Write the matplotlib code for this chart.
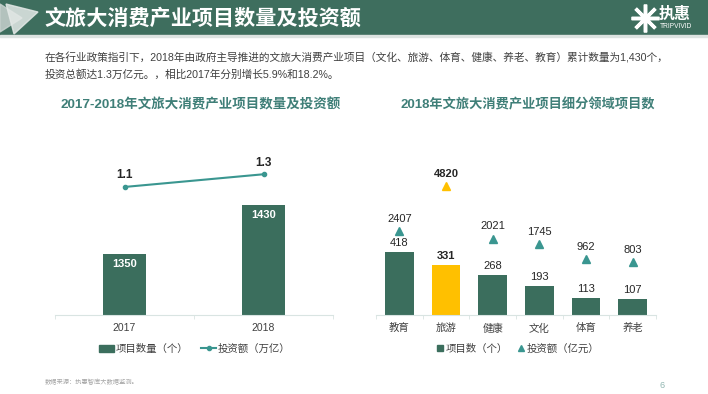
import matplotlib
matplotlib.use('Agg')
import matplotlib.pyplot as plt
from matplotlib.patches import Rectangle, Polygon
from matplotlib.lines import Line2D

plt.rcParams['font.family'] = ['Liberation Sans', 'Noto Sans CJK SC', 'DejaVu Sans']

years = ['2017', '2018']
project_counts = [1350, 1430]
investment_wanyi = [1.1, 1.3]

sectors = ['教育', '旅游', '健康', '文化', '体育', '养老']
sector_counts = [418, 331, 268, 193, 113, 107]
sector_invest_yiyuan = [2407, 4820, 2021, 1745, 962, 803]

GREEN = '#3b6e5d'
TEAL = '#3a9690'
YELLOW = '#ffc000'
TITLE_TEAL = '#3f7f78'
W, H = 708, 394


def fx(px):
    return px / W


def fy(py):
    return 1 - py / H


fig = plt.figure(figsize=(7.08, 3.94), dpi=100)

# header band
fig.patches.append(Rectangle((0, fy(35)), 1, 35 / H, transform=fig.transFigure,
                             color='#3e6e5e', zorder=0))
fig.patches.append(Rectangle((0, fy(37)), 1, 2 / H, transform=fig.transFigure,
                             color='#dde3e1', zorder=0))
for pts, c in [([(0, 4), (22, 18), (0, 32)], '#c9d2cf'),
               ([(6, 4), (38, 12), (14, 34)], '#e4e9e7')]:
    fig.patches.append(Polygon([(fx(a), fy(b)) for a, b in pts], closed=True,
                               transform=fig.transFigure, color=c, alpha=0.85, zorder=1))
fig.text(fx(44), fy(18), '文旅大消费产业项目数量及投资额', color='white', fontsize=15.2,
         fontweight='bold', va='center', ha='left')
fig.text(fx(659), fy(14), '执惠', color='white', fontsize=11.5, fontweight='bold',
         va='center', ha='left')
fig.text(fx(660), fy(27), 'TRIPVIVID', color='white', fontsize=4.8, va='center', ha='left')
fig.lines.append(Line2D([fx(645)], [fy(18)], marker=(8, 2, 0), markersize=20, color='white',
                        markeredgewidth=2.5, transform=fig.transFigure))

sub = ('在各行业政策指引下，2018年由政府主导推进的文旅大消费产业项目（文化、旅游、体育、健康、养老、教育）累计数量为1,430个，\n'
       '投资总额达1.3万亿元。，相比2017年分别增长5.9%和18.2%。')
fig.text(fx(45), fy(66), sub, fontsize=7.7, color='#404040', va='center', ha='left',
         linespacing=1.55)

fig.text(fx(201), fy(105), '2017-2018年文旅大消费产业项目数量及投资额', fontsize=9.7,
         fontweight='bold', color=TITLE_TEAL, ha='center', va='center')
fig.text(fx(528), fy(105), '2018年文旅大消费产业项目细分领域项目数', fontsize=9.5,
         fontweight='bold', color=TITLE_TEAL, ha='center', va='center')

# left chart
top = 150
ax1 = fig.add_axes([fx(55), fy(315), fx(333 - 55), (315 - top) / H])
x1 = range(len(years))
ax1.bar(x1, project_counts, width=0.316, color=GREEN, label='项目数量（个）')
for i, v in enumerate(project_counts):
    ax1.text(i, v - 9, str(v), color='white', fontsize=8, fontweight='bold',
             ha='center', va='top')
ax1.set_ylim(1250, 1519)
ax1.set_xlim(-0.5, 1.5)
ax1b = ax1.twinx()
ax1b.plot(x1, investment_wanyi, color=TEAL, lw=1.5, marker='o', markersize=3,
          label='投资额（万亿）')
for i, v in enumerate(investment_wanyi):
    ax1b.text(i, v + 0.09, f'{v:.1f}', color='#262626', fontsize=8.5, fontweight='bold',
              ha='center', va='bottom')
ax1b.set_ylim(-0.916, 1.682)

# right chart
ax2 = fig.add_axes([fx(376), fy(315), fx(656 - 376), (315 - top) / H])
x2 = range(len(sectors))
colors = [YELLOW if s == '旅游' else GREEN for s in sectors]
ax2.bar(x2, sector_counts, width=0.62, color=colors, label='项目数（个）')
for i, v in enumerate(sector_counts):
    ax2.text(i, v + 25, str(v), color='#262626', fontsize=8,
             fontweight='bold' if sectors[i] == '旅游' else 'normal',
             ha='center', va='bottom')
ax2.set_ylim(0, 1093)
ax2.set_xlim(-0.5, 5.5)
ax2b = ax2.twinx()
for i, v in enumerate(sector_invest_yiyuan):
    c = YELLOW if sectors[i] == '旅游' else TEAL
    ax2b.plot(i, v, marker='^', color=c, markersize=6, linestyle='none')
    ax2b.text(i, v + 380, str(v), color='#262626', fontsize=8,
              fontweight='bold' if sectors[i] == '旅游' else 'normal',
              ha='center', va='bottom')
ax2b.set_ylim(-2014, 6707)

for ax, labels in [(ax1, years), (ax2, sectors)]:
    n = len(labels)
    ax.set_xticks(range(n))
    ax.set_xticklabels(labels, fontsize=7.5, color='#404040')
    ax.set_xticks([i - 0.5 for i in range(n + 1)], minor=True)
    ax.tick_params(axis='x', which='major', length=0, pad=6)
    ax.tick_params(axis='x', which='minor', length=3, color='#d9e4e2')
    ax.set_yticks([])
    for s in ['top', 'left', 'right']:
        ax.spines[s].set_visible(False)
    ax.spines['bottom'].set_color('#d9e4e2')
for ax in [ax1b, ax2b]:
    ax.set_yticks([])
    ax.axis('off')

h1 = [Rectangle((0, 0), 1, 0.5, color=GREEN),
      Line2D([], [], color=TEAL, lw=1.5, marker='o', markersize=3)]
fig.legend(h1, ['项目数量（个）', '投资额（万亿）'], loc='center', bbox_to_anchor=(fx(195), fy(349)),
           ncol=2, frameon=False, fontsize=7.5, handlelength=1.4, columnspacing=1.2,
           handletextpad=0.2, labelcolor='#404040')
h2 = [Line2D([], [], color=GREEN, marker='s', markersize=4, linestyle='none'),
      Line2D([], [], color=TEAL, marker='^', markersize=4, linestyle='none')]
fig.legend(h2, ['项目数（个）', '投资额（亿元）'], loc='center', bbox_to_anchor=(fx(518), fy(349)),
           ncol=2, frameon=False, fontsize=7.5, handlelength=0.6, columnspacing=1.0,
           handletextpad=0.2, labelcolor='#404040')

fig.text(fx(45), fy(382), '数据来源：执惠智库大数据监测。', fontsize=4.5, color='#a6a6a6',
         va='center', ha='left')
fig.text(fx(662), fy(386), '6', fontsize=6.5, color='#8fb5b0', va='center', ha='center')

fig.savefig('out.png', dpi=100)
